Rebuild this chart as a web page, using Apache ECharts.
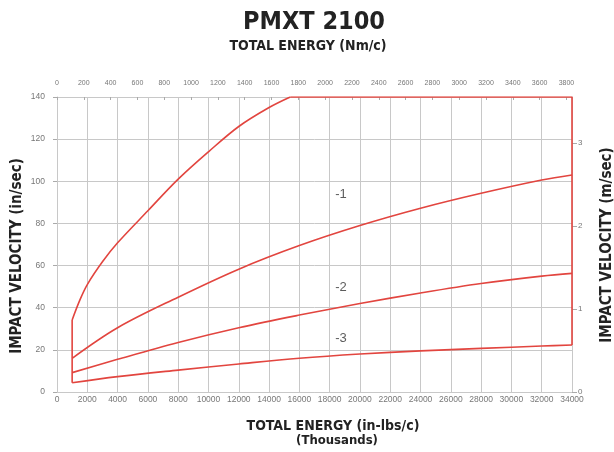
<!DOCTYPE html>
<html>
<head>
<meta charset="utf-8">
<script src="https://cdn.jsdelivr.net/npm/echarts@6/dist/echarts.min.js"></script>
<style>
  html, body { margin: 0; padding: 0; background: #fff; }
  #chart { width: 614px; height: 452px; }
</style>
</head>
<body>
<div id="chart"></div>
<script>
/* DATOS LEIDOS DEL GRAFICO */
// curva superior (limite maximo), energia en miles de in-lbs/c
var energiaTop = [1000, 1500, 2000, 3000, 4000, 6000, 8000, 10000, 12000, 14000, 15400];
var velTop = [34.2, 43.5, 51, 61.8, 70.8, 86, 101, 114, 126, 135, 140];

// curvas -1, -2, -3
var energia = [1000, 4000, 8000, 12000, 16000, 20000, 24000, 28000, 32000, 34000];
var vel1 = [16, 30.5, 45, 58.3, 69.5, 79, 87.2, 94.3, 100.6, 103];
var vel2 = [9.2, 15.5, 23.5, 30.5, 36.5, 42, 47, 51.5, 55, 56.3];
var vel3 = [4.4, 7.3, 10.4, 13.3, 16, 18, 19.5, 20.7, 21.8, 22.3];

// etiquetas de las curvas
var etiquetas = ['-1', '-2', '-3'];
var etiquetasX = [18750, 18750, 18750];
var etiquetasY = [94, 49.4, 25.6];

var energiaMax = 34000;
var velMax = 140;
var NM_POR_INLB = 0.112985;
var MS_POR_INS = 0.0254;

var rojo = '#e2453f';
var gris = '#c8c8c8';
var fuente = '"DejaVu Sans Condensed", "Liberation Sans", sans-serif';

function pares(xs, ys) {
	return xs.map(function (x, i) { return [x, ys[i]]; });
}
function sinComas(v) { return String(v); }

var ultimo = energia.length - 1;
var bordeIzq = [[energia[0], vel3[0]], [energiaTop[0], velTop[0]]];
var bordeSup = [[energiaTop[energiaTop.length - 1], velMax], [energiaMax, velMax], [energiaMax, vel3[ultimo]]];

var lineaCurva = { color: rojo, width: 1.6 };

function serieCurva(nombre, datos) {
	return {
		name: nombre, type: 'line', data: datos, smooth: 0.35,
		showSymbol: false, lineStyle: lineaCurva, silent: true, z: 5
	};
}

function titulo(texto, x, y, tam, rot) {
	return {
		type: 'text', x: x, y: y, rotation: rot || 0,
		style: {
			text: texto, align: 'center', verticalAlign: 'middle',
			fontFamily: fuente, fontSize: tam, fontWeight: 'bold', fill: '#222'
		}
	};
}

var chartDom = document.getElementById('chart');
var myChart = echarts.init(chartDom);

var option = {
	animation: false,
	backgroundColor: '#fff',
	grid: { left: 57, right: 42, top: 97, bottom: 60 },
	graphic: [
		titulo('PMXT 2100', 314, 22, 25),
		titulo('TOTAL ENERGY (Nm/c)', 308, 46, 14),
		titulo('TOTAL ENERGY (in-lbs/c)', 333, 426, 14),
		titulo('(Thousands)', 337, 441, 13),
		titulo('IMPACT VELOCITY (in/sec)', 17, 256, 15, Math.PI / 2),
		titulo('IMPACT VELOCITY (m/sec)', 607, 245, 15, Math.PI / 2)
	],
	xAxis: [
		{
			type: 'value', position: 'bottom', min: 0, max: energiaMax, interval: 2000,
			axisLine: { show: true, onZero: false, lineStyle: { color: gris } },
			axisTick: { show: false },
			axisLabel: { fontFamily: 'Liberation Sans', fontSize: 8.5, color: '#777', margin: 3, formatter: sinComas },
			splitLine: { show: true, lineStyle: { color: gris, width: 1 } }
		},
		{
			type: 'value', position: 'top', min: 0, max: energiaMax * NM_POR_INLB, interval: 200,
			axisLine: { show: true, onZero: false, lineStyle: { color: gris } },
			axisTick: { show: true, inside: true, length: 3, lineStyle: { color: '#aaa' } },
			axisLabel: { fontFamily: 'Liberation Sans', fontSize: 7, color: '#777', margin: 10, showMaxLabel: false, formatter: sinComas },
			splitLine: { show: false }
		}
	],
	yAxis: [
		{
			type: 'value', position: 'left', min: 0, max: velMax, interval: 20,
			axisLine: { show: true, onZero: false, lineStyle: { color: gris } },
			axisTick: { show: true, length: 4, lineStyle: { color: '#aaa' } },
			axisLabel: { fontFamily: 'Liberation Sans', fontSize: 8.5, color: '#777', margin: 12 },
			splitLine: { show: true, lineStyle: { color: gris, width: 1 } }
		},
		{
			type: 'value', position: 'right', min: 0, max: velMax * MS_POR_INS, interval: 1,
			axisLine: { show: true, onZero: false, lineStyle: { color: gris } },
			axisTick: { show: true, length: 5, lineStyle: { color: '#aaa' } },
			axisLabel: { fontFamily: 'Liberation Sans', fontSize: 8, color: '#777', margin: 6, showMaxLabel: false },
			splitLine: { show: false }
		}
	],
	series: [
		serieCurva('max', pares(energiaTop, velTop)),
		serieCurva('-1', pares(energia, vel1)),
		serieCurva('-2', pares(energia, vel2)),
		serieCurva('-3', pares(energia, vel3)),
		{
			name: 'bordeIzq', type: 'line', data: bordeIzq, showSymbol: false,
			lineStyle: lineaCurva, silent: true, z: 5
		},
		{
			name: 'bordeSup', type: 'line', data: bordeSup, showSymbol: false,
			lineStyle: lineaCurva, silent: true, z: 5
		},
		{
			name: 'etiquetas', type: 'scatter', symbolSize: 0, silent: true,
			data: etiquetas.map(function (t, i) { return { value: [etiquetasX[i], etiquetasY[i]], name: t }; }),
			label: {
				show: true, position: 'inside', formatter: '{b}',
				fontFamily: 'Liberation Sans', fontSize: 13, color: '#333'
			}
		}
	]
};

myChart.setOption(option);
</script>
</body>
</html>
